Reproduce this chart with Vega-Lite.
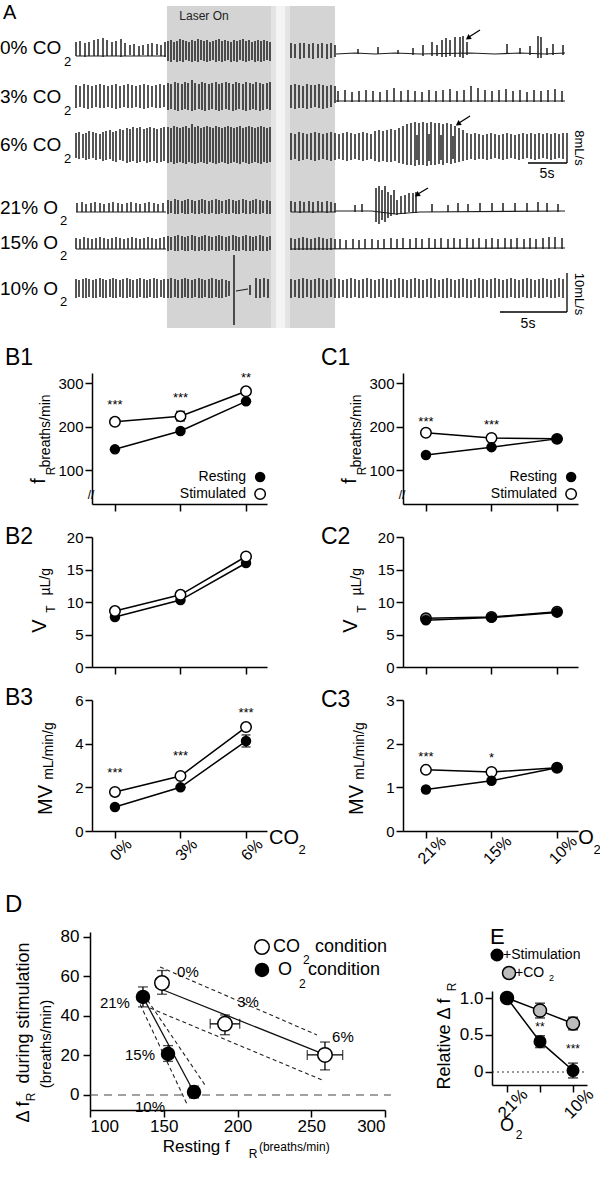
{
"$schema":"https://vega.github.io/schema/vega-lite/v6.json",
"width":600,"height":1199,
"padding":0,
"autosize":{"type":"none"},
"background":"white",
"config":{
 "view":{"stroke":null},
 "font":"Liberation Sans",
 "axis":{"domainColor":"black","tickColor":"black","labelColor":"black","domainWidth":1.5,"tickWidth":1.5,"tickSize":7,"labelPadding":2,"labelFontSize":15,"labelFont":"Liberation Sans","grid":false},
 "text":{"font":"Liberation Sans","color":"black"}
},
"resolve":{"scale":{"x":"independent","y":"independent"},"axis":{"x":"independent","y":"independent"}},
"layer":[
{
 "encoding":{
  "x":{"field":"x","type":"quantitative","scale":{"domain":[0,600],"range":[0,600],"nice":false,"zero":false},"axis":null},
  "y":{"field":"y","type":"quantitative","scale":{"domain":[0,330],"range":[0,330],"nice":false,"zero":false},"axis":null}
 },
 "layer":[
  {"data":{"values":[{"x":167,"x2":335,"y":6,"y2":328}]},"mark":{"type":"rect","color":"#d4d4d4"},"encoding":{"x2":{"field":"x2"},"y2":{"field":"y2"}}},
  {"data":{"values":[{"x":271,"x2":290,"y":6,"y2":328}]},"mark":{"type":"rect","color":"#e4e4e4"},"encoding":{"x2":{"field":"x2"},"y2":{"field":"y2"}}},
  {"data":{"values":[{"x":276,"x2":285,"y":6,"y2":328}]},"mark":{"type":"rect","color":"#f4f4f4"},"encoding":{"x2":{"field":"x2"},"y2":{"field":"y2"}}},
  {"data":{"values":[
{"x":76,"y":42,"y2":56},{"x":80,"y":41,"y2":56},{"x":85,"y":43,"y2":57},{"x":89,"y":42,"y2":56},{"x":94,"y":40,"y2":56},{"x":98,"y":39,"y2":56},{"x":103,"y":38,"y2":57},{"x":107,"y":40,"y2":56},{"x":112,"y":42,"y2":56},{"x":116,"y":41,"y2":56},{"x":121,"y":39,"y2":57},{"x":125,"y":43,"y2":56},{"x":130,"y":45,"y2":55},{"x":134,"y":44,"y2":56},{"x":139,"y":46,"y2":56},{"x":143,"y":45,"y2":55},{"x":148,"y":44,"y2":56},{"x":152,"y":43,"y2":56},{"x":157,"y":44,"y2":55},{"x":161,"y":45,"y2":56},{"x":165,"y":42,"y2":57},
{"x":168,"y":41,"y2":61},{"x":171,"y":40,"y2":62},{"x":174,"y":42,"y2":60},{"x":177,"y":41,"y2":62},{"x":180,"y":39,"y2":61},{"x":183,"y":40,"y2":62},{"x":186,"y":41,"y2":60},{"x":189,"y":42,"y2":61},{"x":192,"y":40,"y2":62},{"x":195,"y":41,"y2":61},{"x":198,"y":39,"y2":62},{"x":201,"y":40,"y2":60},{"x":204,"y":41,"y2":61},{"x":207,"y":40,"y2":62},{"x":210,"y":42,"y2":61},{"x":213,"y":41,"y2":60},{"x":216,"y":40,"y2":62},{"x":219,"y":39,"y2":61},{"x":222,"y":41,"y2":62},{"x":225,"y":40,"y2":61},{"x":228,"y":41,"y2":60},{"x":231,"y":42,"y2":62},{"x":234,"y":40,"y2":61},{"x":237,"y":41,"y2":62},{"x":240,"y":40,"y2":60},{"x":243,"y":39,"y2":61},{"x":246,"y":41,"y2":62},{"x":249,"y":40,"y2":61},{"x":252,"y":42,"y2":60},{"x":255,"y":41,"y2":62},{"x":258,"y":40,"y2":61},{"x":261,"y":41,"y2":62},{"x":264,"y":40,"y2":61},{"x":267,"y":41,"y2":60},{"x":270,"y":42,"y2":61},
{"x":291,"y":43,"y2":58},{"x":295,"y":44,"y2":58},{"x":300,"y":43,"y2":59},{"x":304,"y":43,"y2":58},{"x":309,"y":44,"y2":58},{"x":313,"y":43,"y2":59},{"x":318,"y":44,"y2":58},{"x":322,"y":43,"y2":58},{"x":327,"y":44,"y2":59},{"x":331,"y":43,"y2":58},{"x":335,"y":45,"y2":57},
{"x":358,"y":49,"y2":54},{"x":378,"y":47,"y2":54},{"x":398,"y":50,"y2":54},{"x":413,"y":48,"y2":55},{"x":423,"y":45,"y2":56},{"x":432,"y":42,"y2":56},{"x":437,"y":45,"y2":56},{"x":442,"y":40,"y2":57},{"x":446,"y":38,"y2":57},{"x":450,"y":40,"y2":56},{"x":455,"y":37,"y2":57},{"x":460,"y":37,"y2":57},{"x":463,"y":36,"y2":58},{"x":467,"y":42,"y2":55},{"x":507,"y":44,"y2":54},{"x":520,"y":48,"y2":54},{"x":530,"y":46,"y2":55},{"x":538,"y":36,"y2":58},{"x":541,"y":37,"y2":58},{"x":547,"y":48,"y2":55},{"x":553,"y":44,"y2":55},{"x":563,"y":45,"y2":55},
{"x":76,"y":85,"y2":108},{"x":80,"y":86,"y2":107},{"x":84,"y":84,"y2":108},{"x":88,"y":85,"y2":109},{"x":92,"y":86,"y2":108},{"x":96,"y":85,"y2":107},{"x":100,"y":84,"y2":108},{"x":104,"y":85,"y2":108},{"x":108,"y":86,"y2":107},{"x":112,"y":85,"y2":108},{"x":116,"y":84,"y2":109},{"x":120,"y":86,"y2":108},{"x":124,"y":85,"y2":107},{"x":128,"y":84,"y2":108},{"x":132,"y":85,"y2":108},{"x":136,"y":86,"y2":107},{"x":140,"y":85,"y2":108},{"x":144,"y":84,"y2":109},{"x":148,"y":85,"y2":108},{"x":152,"y":86,"y2":107},{"x":156,"y":85,"y2":108},{"x":160,"y":84,"y2":108},{"x":164,"y":85,"y2":107},
{"x":168,"y":83,"y2":110},{"x":171,"y":84,"y2":109},{"x":175,"y":82,"y2":110},{"x":178,"y":83,"y2":111},{"x":182,"y":84,"y2":110},{"x":185,"y":82,"y2":109},{"x":188,"y":83,"y2":110},{"x":192,"y":80,"y2":111},{"x":195,"y":83,"y2":110},{"x":199,"y":84,"y2":109},{"x":202,"y":82,"y2":110},{"x":205,"y":83,"y2":111},{"x":209,"y":84,"y2":110},{"x":212,"y":83,"y2":109},{"x":216,"y":82,"y2":110},{"x":219,"y":84,"y2":111},{"x":222,"y":83,"y2":110},{"x":226,"y":82,"y2":109},{"x":229,"y":83,"y2":110},{"x":233,"y":84,"y2":111},{"x":236,"y":82,"y2":110},{"x":239,"y":83,"y2":109},{"x":243,"y":84,"y2":110},{"x":246,"y":82,"y2":111},{"x":250,"y":83,"y2":110},{"x":253,"y":84,"y2":109},{"x":256,"y":82,"y2":110},{"x":260,"y":83,"y2":111},{"x":263,"y":84,"y2":110},{"x":267,"y":83,"y2":109},{"x":270,"y":82,"y2":110},
{"x":291,"y":85,"y2":108},{"x":295,"y":84,"y2":109},{"x":299,"y":85,"y2":108},{"x":303,"y":86,"y2":108},{"x":307,"y":84,"y2":109},{"x":311,"y":85,"y2":108},{"x":315,"y":85,"y2":107},{"x":319,"y":84,"y2":108},{"x":323,"y":85,"y2":109},{"x":327,"y":86,"y2":108},{"x":331,"y":85,"y2":107},{"x":335,"y":86,"y2":103},
{"x":338,"y":91,"y2":102},{"x":345,"y":90,"y2":102},{"x":352,"y":92,"y2":102},{"x":359,"y":91,"y2":102},{"x":366,"y":90,"y2":102},{"x":373,"y":91,"y2":102},{"x":380,"y":92,"y2":102},{"x":387,"y":90,"y2":102},{"x":394,"y":88,"y2":102},{"x":401,"y":91,"y2":102},{"x":408,"y":90,"y2":102},{"x":415,"y":91,"y2":102},{"x":422,"y":92,"y2":102},{"x":429,"y":90,"y2":102},{"x":436,"y":91,"y2":102},{"x":443,"y":90,"y2":102},{"x":450,"y":89,"y2":102},{"x":457,"y":91,"y2":102},{"x":464,"y":90,"y2":102},{"x":471,"y":86,"y2":102},{"x":478,"y":88,"y2":102},{"x":485,"y":90,"y2":102},{"x":492,"y":91,"y2":102},{"x":499,"y":90,"y2":102},{"x":506,"y":89,"y2":102},{"x":513,"y":91,"y2":102},{"x":520,"y":90,"y2":102},{"x":527,"y":92,"y2":102},{"x":534,"y":90,"y2":102},{"x":541,"y":91,"y2":102},{"x":548,"y":90,"y2":102},{"x":555,"y":89,"y2":102},{"x":562,"y":91,"y2":102},
{"x":76,"y":133,"y2":158},{"x":79,"y":132,"y2":159},{"x":83,"y":134,"y2":158},{"x":86,"y":133,"y2":160},{"x":89,"y":131,"y2":159},{"x":93,"y":132,"y2":158},{"x":96,"y":133,"y2":160},{"x":100,"y":134,"y2":159},{"x":103,"y":132,"y2":161},{"x":106,"y":131,"y2":160},{"x":110,"y":130,"y2":159},{"x":113,"y":132,"y2":161},{"x":116,"y":131,"y2":162},{"x":120,"y":129,"y2":160},{"x":123,"y":130,"y2":161},{"x":127,"y":128,"y2":163},{"x":130,"y":129,"y2":162},{"x":133,"y":127,"y2":161},{"x":137,"y":128,"y2":163},{"x":140,"y":127,"y2":162},{"x":144,"y":129,"y2":161},{"x":147,"y":128,"y2":163},{"x":150,"y":127,"y2":162},{"x":154,"y":128,"y2":161},{"x":157,"y":129,"y2":163},{"x":161,"y":128,"y2":162},{"x":164,"y":127,"y2":161},
{"x":168,"y":127,"y2":163},{"x":171,"y":128,"y2":162},{"x":174,"y":126,"y2":164},{"x":177,"y":127,"y2":163},{"x":180,"y":128,"y2":162},{"x":183,"y":127,"y2":163},{"x":186,"y":126,"y2":164},{"x":189,"y":128,"y2":162},{"x":192,"y":124,"y2":163},{"x":195,"y":127,"y2":164},{"x":198,"y":126,"y2":163},{"x":201,"y":128,"y2":162},{"x":204,"y":127,"y2":163},{"x":207,"y":126,"y2":164},{"x":210,"y":127,"y2":162},{"x":213,"y":128,"y2":163},{"x":216,"y":126,"y2":164},{"x":219,"y":127,"y2":163},{"x":222,"y":128,"y2":162},{"x":225,"y":127,"y2":163},{"x":228,"y":126,"y2":164},{"x":231,"y":127,"y2":163},{"x":234,"y":128,"y2":162},{"x":237,"y":127,"y2":163},{"x":240,"y":126,"y2":164},{"x":243,"y":128,"y2":162},{"x":246,"y":127,"y2":163},{"x":249,"y":126,"y2":164},{"x":252,"y":127,"y2":163},{"x":255,"y":128,"y2":162},{"x":258,"y":127,"y2":163},{"x":261,"y":126,"y2":164},{"x":264,"y":127,"y2":162},{"x":267,"y":128,"y2":163},{"x":270,"y":127,"y2":162},
{"x":291,"y":133,"y2":160},{"x":295,"y":134,"y2":159},{"x":299,"y":132,"y2":161},{"x":303,"y":133,"y2":160},{"x":307,"y":134,"y2":159},{"x":311,"y":133,"y2":160},{"x":315,"y":132,"y2":161},{"x":319,"y":133,"y2":160},{"x":323,"y":134,"y2":159},{"x":327,"y":133,"y2":160},{"x":331,"y":132,"y2":161},{"x":335,"y":133,"y2":160},{"x":339,"y":134,"y2":159},{"x":343,"y":133,"y2":160},{"x":347,"y":132,"y2":161},{"x":351,"y":133,"y2":160},{"x":355,"y":134,"y2":159},{"x":359,"y":133,"y2":160},{"x":363,"y":132,"y2":161},{"x":367,"y":133,"y2":160},{"x":371,"y":134,"y2":159},{"x":375,"y":131,"y2":161},{"x":379,"y":130,"y2":162},{"x":383,"y":131,"y2":161},{"x":387,"y":130,"y2":162},{"x":391,"y":129,"y2":162},{"x":395,"y":130,"y2":161},{"x":399,"y":128,"y2":163},
{"x":403,"y":126,"y2":164},{"x":407,"y":124,"y2":165},{"x":411,"y":123,"y2":165},{"x":415,"y":122,"y2":166},{"x":419,"y":123,"y2":165},{"x":423,"y":122,"y2":165},{"x":427,"y":123,"y2":166},{"x":431,"y":122,"y2":165},{"x":435,"y":123,"y2":165},{"x":439,"y":123,"y2":164},{"x":443,"y":124,"y2":165},{"x":447,"y":123,"y2":163},{"x":451,"y":124,"y2":164},{"x":455,"y":126,"y2":163},{"x":459,"y":128,"y2":162},{"x":463,"y":130,"y2":161},
{"x":417,"y":135,"y2":160},{"x":429,"y":134,"y2":161},{"x":441,"y":135,"y2":160},{"x":453,"y":136,"y2":159},
{"x":467,"y":133,"y2":160},{"x":471,"y":134,"y2":159},{"x":475,"y":133,"y2":160},{"x":479,"y":134,"y2":159},{"x":483,"y":135,"y2":159},{"x":487,"y":134,"y2":160},{"x":491,"y":133,"y2":159},{"x":495,"y":134,"y2":158},{"x":499,"y":135,"y2":159},{"x":503,"y":134,"y2":160},{"x":507,"y":133,"y2":159},{"x":511,"y":134,"y2":158},{"x":515,"y":135,"y2":159},{"x":519,"y":134,"y2":160},{"x":523,"y":133,"y2":159},{"x":527,"y":134,"y2":158},{"x":531,"y":133,"y2":159},{"x":535,"y":134,"y2":160},{"x":539,"y":133,"y2":159},{"x":543,"y":134,"y2":158},{"x":547,"y":133,"y2":159},{"x":551,"y":134,"y2":160},{"x":555,"y":133,"y2":159},{"x":559,"y":134,"y2":158},{"x":563,"y":133,"y2":159},
{"x":77,"y":203,"y2":212},{"x":82,"y":202,"y2":212},{"x":86,"y":204,"y2":212},{"x":91,"y":203,"y2":212},{"x":95,"y":202,"y2":212},{"x":100,"y":203,"y2":212},{"x":104,"y":204,"y2":212},{"x":109,"y":203,"y2":212},{"x":113,"y":202,"y2":212},{"x":118,"y":203,"y2":212},{"x":122,"y":204,"y2":212},{"x":127,"y":203,"y2":212},{"x":131,"y":202,"y2":212},{"x":136,"y":203,"y2":212},{"x":140,"y":204,"y2":212},{"x":145,"y":203,"y2":212},{"x":149,"y":202,"y2":212},{"x":154,"y":203,"y2":212},{"x":158,"y":204,"y2":212},{"x":163,"y":203,"y2":212},
{"x":168,"y":200,"y2":214},{"x":171,"y":201,"y2":213},{"x":175,"y":199,"y2":214},{"x":178,"y":200,"y2":214},{"x":182,"y":201,"y2":213},{"x":185,"y":200,"y2":214},{"x":188,"y":199,"y2":214},{"x":192,"y":200,"y2":213},{"x":195,"y":201,"y2":214},{"x":199,"y":200,"y2":214},{"x":202,"y":199,"y2":213},{"x":205,"y":200,"y2":214},{"x":209,"y":201,"y2":214},{"x":212,"y":200,"y2":213},{"x":216,"y":199,"y2":214},{"x":219,"y":200,"y2":214},{"x":222,"y":201,"y2":213},{"x":226,"y":200,"y2":214},{"x":229,"y":199,"y2":214},{"x":233,"y":200,"y2":213},{"x":236,"y":201,"y2":214},{"x":239,"y":200,"y2":214},{"x":243,"y":199,"y2":213},{"x":246,"y":200,"y2":214},{"x":250,"y":201,"y2":214},{"x":253,"y":200,"y2":213},{"x":256,"y":199,"y2":214},{"x":260,"y":200,"y2":214},{"x":263,"y":201,"y2":213},{"x":267,"y":200,"y2":214},{"x":270,"y":201,"y2":214},
{"x":291,"y":201,"y2":212},{"x":295,"y":202,"y2":212},{"x":300,"y":201,"y2":213},{"x":304,"y":202,"y2":212},{"x":309,"y":201,"y2":212},{"x":313,"y":202,"y2":213},{"x":318,"y":201,"y2":212},{"x":322,"y":202,"y2":212},{"x":327,"y":201,"y2":213},{"x":331,"y":202,"y2":212},{"x":335,"y":203,"y2":212},
{"x":355,"y":205,"y2":212},{"x":362,"y":204,"y2":212},{"x":376,"y":188,"y2":222},{"x":379,"y":186,"y2":224},{"x":382,"y":190,"y2":220},{"x":385,"y":186,"y2":222},{"x":388,"y":192,"y2":218},{"x":391,"y":195,"y2":216},{"x":394,"y":190,"y2":214},{"x":397,"y":200,"y2":215},{"x":401,"y":196,"y2":214},{"x":405,"y":195,"y2":214},{"x":409,"y":193,"y2":212},{"x":413,"y":193,"y2":213},{"x":416,"y":192,"y2":213},{"x":432,"y":204,"y2":212},{"x":448,"y":205,"y2":212},{"x":458,"y":203,"y2":212},{"x":468,"y":204,"y2":212},{"x":480,"y":203,"y2":212},{"x":492,"y":203,"y2":212},{"x":503,"y":203,"y2":212},{"x":515,"y":203,"y2":212},{"x":527,"y":203,"y2":212},{"x":538,"y":202,"y2":212},{"x":547,"y":203,"y2":212},{"x":558,"y":204,"y2":212},
{"x":76,"y":238,"y2":249},{"x":80,"y":239,"y2":249},{"x":84,"y":237,"y2":249},{"x":88,"y":238,"y2":249},{"x":92,"y":239,"y2":249},{"x":96,"y":238,"y2":249},{"x":100,"y":237,"y2":249},{"x":104,"y":238,"y2":249},{"x":108,"y":239,"y2":249},{"x":112,"y":238,"y2":249},{"x":116,"y":237,"y2":249},{"x":120,"y":238,"y2":249},{"x":124,"y":239,"y2":249},{"x":128,"y":238,"y2":249},{"x":132,"y":237,"y2":249},{"x":136,"y":238,"y2":249},{"x":140,"y":239,"y2":249},{"x":144,"y":238,"y2":249},{"x":148,"y":237,"y2":249},{"x":152,"y":238,"y2":249},{"x":156,"y":239,"y2":249},{"x":160,"y":238,"y2":249},{"x":164,"y":237,"y2":249},
{"x":168,"y":236,"y2":251},{"x":171,"y":237,"y2":250},{"x":175,"y":236,"y2":251},{"x":178,"y":235,"y2":251},{"x":182,"y":236,"y2":250},{"x":185,"y":237,"y2":251},{"x":188,"y":236,"y2":251},{"x":192,"y":235,"y2":250},{"x":195,"y":236,"y2":251},{"x":199,"y":237,"y2":251},{"x":202,"y":236,"y2":250},{"x":205,"y":235,"y2":251},{"x":209,"y":236,"y2":251},{"x":212,"y":237,"y2":250},{"x":216,"y":236,"y2":251},{"x":219,"y":235,"y2":251},{"x":222,"y":236,"y2":250},{"x":226,"y":237,"y2":251},{"x":229,"y":236,"y2":251},{"x":233,"y":235,"y2":250},{"x":236,"y":236,"y2":251},{"x":239,"y":237,"y2":251},{"x":243,"y":236,"y2":250},{"x":246,"y":235,"y2":251},{"x":250,"y":236,"y2":251},{"x":253,"y":237,"y2":251},{"x":256,"y":236,"y2":250},{"x":260,"y":235,"y2":251},{"x":263,"y":236,"y2":251},{"x":267,"y":237,"y2":251},{"x":270,"y":236,"y2":250},
{"x":291,"y":238,"y2":250},{"x":295,"y":239,"y2":250},{"x":299,"y":238,"y2":250},{"x":303,"y":237,"y2":250},{"x":307,"y":238,"y2":250},{"x":311,"y":239,"y2":250},{"x":315,"y":238,"y2":250},{"x":319,"y":237,"y2":250},{"x":323,"y":238,"y2":250},{"x":327,"y":239,"y2":250},{"x":331,"y":238,"y2":250},{"x":335,"y":239,"y2":249},
{"x":340,"y":239,"y2":249},{"x":346,"y":240,"y2":249},{"x":353,"y":239,"y2":249},{"x":359,"y":240,"y2":249},{"x":365,"y":239,"y2":249},{"x":372,"y":239,"y2":249},{"x":378,"y":240,"y2":249},{"x":384,"y":239,"y2":249},{"x":391,"y":238,"y2":249},{"x":397,"y":239,"y2":249},{"x":403,"y":238,"y2":249},{"x":410,"y":239,"y2":249},{"x":416,"y":238,"y2":249},{"x":422,"y":239,"y2":249},{"x":429,"y":238,"y2":249},{"x":435,"y":239,"y2":249},{"x":441,"y":238,"y2":249},{"x":448,"y":239,"y2":249},{"x":454,"y":238,"y2":249},{"x":460,"y":239,"y2":249},{"x":467,"y":238,"y2":249},{"x":473,"y":239,"y2":249},{"x":479,"y":238,"y2":249},{"x":486,"y":239,"y2":249},{"x":492,"y":238,"y2":249},{"x":498,"y":239,"y2":249},{"x":505,"y":238,"y2":249},{"x":511,"y":239,"y2":249},{"x":517,"y":238,"y2":249},{"x":524,"y":239,"y2":249},{"x":530,"y":238,"y2":249},{"x":536,"y":239,"y2":249},{"x":543,"y":238,"y2":249},{"x":549,"y":237,"y2":249},{"x":555,"y":237,"y2":249},{"x":562,"y":238,"y2":249},
{"x":76,"y":279,"y2":298},{"x":79,"y":280,"y2":297},{"x":83,"y":279,"y2":298},{"x":86,"y":278,"y2":298},{"x":89,"y":279,"y2":297},{"x":93,"y":280,"y2":298},{"x":96,"y":279,"y2":298},{"x":100,"y":278,"y2":297},{"x":103,"y":279,"y2":298},{"x":106,"y":280,"y2":298},{"x":110,"y":279,"y2":297},{"x":113,"y":278,"y2":298},{"x":116,"y":279,"y2":298},{"x":120,"y":280,"y2":297},{"x":123,"y":279,"y2":298},{"x":127,"y":278,"y2":298},{"x":130,"y":279,"y2":297},{"x":133,"y":280,"y2":298},{"x":137,"y":279,"y2":298},{"x":140,"y":278,"y2":297},{"x":144,"y":279,"y2":298},{"x":147,"y":280,"y2":298},{"x":150,"y":279,"y2":297},{"x":154,"y":278,"y2":298},{"x":157,"y":279,"y2":298},{"x":161,"y":280,"y2":297},{"x":164,"y":279,"y2":298},
{"x":168,"y":279,"y2":298},{"x":171,"y":278,"y2":298},{"x":175,"y":279,"y2":297},{"x":178,"y":280,"y2":298},{"x":182,"y":279,"y2":298},{"x":185,"y":278,"y2":297},{"x":188,"y":279,"y2":298},{"x":192,"y":280,"y2":298},{"x":195,"y":279,"y2":297},{"x":199,"y":278,"y2":298},{"x":202,"y":279,"y2":298},{"x":205,"y":280,"y2":297},{"x":209,"y":279,"y2":298},{"x":212,"y":278,"y2":298},{"x":216,"y":279,"y2":297},{"x":219,"y":280,"y2":298},{"x":222,"y":279,"y2":298},{"x":226,"y":280,"y2":297},{"x":229,"y":281,"y2":296},
{"x":234,"y":255,"y2":325},{"x":250,"y":285,"y2":295},{"x":256,"y":278,"y2":298},{"x":260,"y":279,"y2":298},{"x":264,"y":278,"y2":297},{"x":268,"y":279,"y2":298},
{"x":291,"y":279,"y2":298},{"x":295,"y":280,"y2":297},{"x":299,"y":279,"y2":298},{"x":303,"y":278,"y2":298},{"x":307,"y":279,"y2":297},{"x":311,"y":280,"y2":298},{"x":315,"y":279,"y2":298},{"x":319,"y":278,"y2":297},{"x":323,"y":279,"y2":298},{"x":327,"y":280,"y2":298},{"x":331,"y":279,"y2":297},{"x":335,"y":278,"y2":298},{"x":339,"y":279,"y2":298},{"x":343,"y":280,"y2":297},{"x":347,"y":279,"y2":298},{"x":351,"y":278,"y2":298},{"x":355,"y":279,"y2":297},{"x":359,"y":280,"y2":298},{"x":363,"y":279,"y2":298},{"x":367,"y":278,"y2":297},{"x":371,"y":279,"y2":298},{"x":375,"y":280,"y2":298},{"x":379,"y":279,"y2":297},{"x":383,"y":278,"y2":298},{"x":387,"y":279,"y2":298},{"x":391,"y":280,"y2":297},{"x":395,"y":279,"y2":298},{"x":399,"y":278,"y2":298},{"x":403,"y":279,"y2":297},{"x":407,"y":280,"y2":298},{"x":411,"y":279,"y2":298},{"x":415,"y":278,"y2":297},{"x":419,"y":279,"y2":298},{"x":423,"y":280,"y2":298},{"x":427,"y":279,"y2":297},{"x":431,"y":278,"y2":298},{"x":435,"y":279,"y2":298},{"x":439,"y":280,"y2":297},{"x":443,"y":279,"y2":298},{"x":447,"y":278,"y2":298},{"x":451,"y":279,"y2":297},{"x":455,"y":280,"y2":298},{"x":459,"y":279,"y2":298},{"x":463,"y":278,"y2":297},{"x":467,"y":279,"y2":298},{"x":471,"y":280,"y2":298},{"x":475,"y":279,"y2":297},{"x":479,"y":278,"y2":298},{"x":483,"y":279,"y2":298},{"x":487,"y":280,"y2":297},{"x":491,"y":279,"y2":298},{"x":495,"y":278,"y2":298},{"x":499,"y":279,"y2":297},{"x":503,"y":280,"y2":298},{"x":507,"y":279,"y2":298},{"x":511,"y":278,"y2":297},{"x":515,"y":279,"y2":298},{"x":519,"y":280,"y2":298},{"x":523,"y":279,"y2":297},{"x":527,"y":278,"y2":298},{"x":531,"y":279,"y2":298},{"x":535,"y":280,"y2":297},{"x":539,"y":279,"y2":298},{"x":543,"y":278,"y2":298},{"x":547,"y":279,"y2":297},{"x":551,"y":280,"y2":298},{"x":555,"y":279,"y2":298},{"x":559,"y":278,"y2":297},{"x":563,"y":279,"y2":298}
  ]},"mark":{"type":"rule","color":"#1e1e1e","strokeWidth":1.5},"encoding":{"y2":{"field":"y2"}}},
  {"data":{"values":[
{"g":"1a","x":76,"y":56},{"g":"1a","x":166,"y":56},
{"g":"1b","x":336,"y":54},{"g":"1b","x":355,"y":53},{"g":"1b","x":375,"y":54},{"g":"1b","x":395,"y":53},{"g":"1b","x":420,"y":54},{"g":"1b","x":470,"y":53},{"g":"1b","x":495,"y":54},{"g":"1b","x":520,"y":53},{"g":"1b","x":545,"y":54},{"g":"1b","x":565,"y":53},
{"g":"2b","x":336,"y":101},{"g":"2b","x":565,"y":101},
{"g":"4a","x":76,"y":212},{"g":"4a","x":166,"y":212},
{"g":"4c","x":291,"y":212},{"g":"4c","x":336,"y":212},
{"g":"4b","x":336,"y":211},{"g":"4b","x":372,"y":211},{"g":"4b","x":395,"y":214},{"g":"4b","x":420,"y":212},{"g":"4b","x":565,"y":211},
{"g":"5a","x":76,"y":249},{"g":"5a","x":166,"y":249},
{"g":"5b","x":291,"y":249},{"g":"5b","x":565,"y":248},
{"g":"6b","x":236,"y":291},{"g":"6b","x":248,"y":289}
  ]},"mark":{"type":"line","color":"#1e1e1e","strokeWidth":1.2},"encoding":{"detail":{"field":"g"}}},
  {"data":{"values":[{"x":480,"y":30,"x2":469,"y2":37},{"x":470,"y":116,"x2":459,"y2":123},{"x":428,"y":188,"x2":418,"y2":194},{"x":567,"y":133,"x2":567,"y2":163},{"x":528,"y":163,"x2":567,"y2":163},{"x":567,"y":273,"x2":567,"y2":312},{"x":500,"y":312,"x2":567,"y2":312}]},"mark":{"type":"rule","color":"black","strokeWidth":1.3},"encoding":{"x2":{"field":"x2"},"y2":{"field":"y2"}}},
  {"data":{"values":[{"x":468,"y":38},{"x":458,"y":124},{"x":417,"y":195}]},"mark":{"type":"point","shape":"triangle-up","angle":236,"size":35,"filled":true,"color":"black","opacity":1}},
  {"data":{"values":[{"x":3,"y":13,"s":"A"}]},"mark":{"type":"text","fontSize":20,"align":"left","baseline":"middle"},"encoding":{"text":{"field":"s"}}},
  {"data":{"values":[{"x":204,"y":16,"s":"Laser On"}]},"mark":{"type":"text","fontSize":12,"align":"center","baseline":"middle","color":"#222"},"encoding":{"text":{"field":"s"}}},
  {"data":{"values":[{"x":0,"y":48,"s":"0% CO"},{"x":0,"y":97,"s":"3% CO"},{"x":0,"y":145,"s":"6% CO"},{"x":0,"y":208,"s":"21% O"},{"x":0,"y":243,"s":"15% O"},{"x":0,"y":289,"s":"10% O"}]},"mark":{"type":"text","fontSize":19,"align":"left","baseline":"middle"},"encoding":{"text":{"field":"s"}}},
  {"data":{"values":[{"x":64,"y":62,"s":"2"},{"x":64,"y":111,"s":"2"},{"x":64,"y":159,"s":"2"},{"x":60,"y":221,"s":"2"},{"x":60,"y":256,"s":"2"},{"x":60,"y":302,"s":"2"}]},"mark":{"type":"text","fontSize":13,"align":"left","baseline":"middle"},"encoding":{"text":{"field":"s"}}},
  {"data":{"values":[{"x":579,"y":148,"s":"8mL/s"},{"x":579,"y":294,"s":"10mL/s"}]},"mark":{"type":"text","fontSize":13,"angle":90,"align":"center","baseline":"middle"},"encoding":{"text":{"field":"s"}}},
  {"data":{"values":[{"x":547,"y":174,"s":"5s"},{"x":528,"y":324,"s":"5s"}]},"mark":{"type":"text","fontSize":14,"align":"center","baseline":"middle"},"encoding":{"text":{"field":"s"}}}
 ]
},
{
 "data":{"values":[{"c":"R","x":0,"y":148},{"c":"R","x":1,"y":190},{"c":"R","x":2,"y":258},{"c":"S","x":0,"y":211},{"c":"S","x":1,"y":224},{"c":"S","x":2,"y":281},{"c":"R","x":2.215,"y":84.6,"l":1},{"c":"S","x":2.215,"y":45.6,"l":1}]},
 "encoding":{"x":{"field":"x","type":"quantitative","scale":{"domain":[-0.35,2.32],"range":[92,267],"nice":false,"zero":false},"axis":{"orient":"bottom","offset":-695,"values":[0,1,2],"labels":false,"title":null}},
  "y":{"field":"y","type":"quantitative","scale":{"domain":[22.7,323],"range":[504,373],"nice":false,"zero":false},"axis":{"orient":"left","offset":-92,"values":[100,200,300],"title":null}}},
 "layer":[
  {"transform":[{"filter":"!datum.l"}],"mark":{"type":"line","color":"black","strokeWidth":1.5},"encoding":{"detail":{"field":"c"}}},
  {"data":{"values":[{"x":1,"y":213,"y2":235}]},"mark":{"type":"rule","color":"black","strokeWidth":1.5},"encoding":{"y2":{"field":"y2"}}},
  {"data":{"values":[{"x":1,"y":213},{"x":1,"y":235}]},"mark":{"type":"tick","orient":"horizontal","size":9,"thickness":1.5,"color":"black"}},
  {"transform":[{"filter":"datum.c=='R'"}],"mark":{"type":"point","shape":"circle","size":110,"filled":true,"color":"black","opacity":1}},
  {"transform":[{"filter":"datum.c=='S'"}],"mark":{"type":"point","shape":"circle","size":110,"filled":true,"fill":"white","stroke":"black","strokeWidth":1.5,"opacity":1}},
  {"data":{"values":[{"x":-1.678,"y":357.4,"s":"B1"}]},"mark":{"type":"text","fontSize":23,"align":"left","baseline":"middle"},"encoding":{"text":{"field":"s"}}},
  {"data":{"values":[{"x":0,"y":249.6,"s":"***"},{"x":1,"y":265.7,"s":"***"},{"x":2,"y":311.5,"s":"**"}]},"mark":{"type":"text","fontSize":13,"align":"center","baseline":"middle"},"encoding":{"text":{"field":"s"}}},
  {"data":{"values":[{"x":2.0,"y":84.6,"s":"Resting"},{"x":2.0,"y":45.6,"s":"Stimulated"}]},"mark":{"type":"text","fontSize":14,"align":"right","baseline":"middle"},"encoding":{"text":{"field":"s"}}},
  {"data":{"values":[{"x":-1.159,"y":75.4,"s":"f"}]},"mark":{"type":"text","fontSize":20,"angle":270,"align":"center","baseline":"middle"},"encoding":{"text":{"field":"s"}}},
  {"data":{"values":[{"x":-0.976,"y":98.4,"s":"R"}]},"mark":{"type":"text","fontSize":12,"angle":270,"align":"center","baseline":"middle"},"encoding":{"text":{"field":"s"}}},
  {"data":{"values":[{"x":-1.052,"y":190,"s":"breaths/min"}]},"mark":{"type":"text","fontSize":14,"angle":270,"align":"center","baseline":"middle"},"encoding":{"text":{"field":"s"}}},
  {"data":{"values":[{"x":-0.365,"y":43.4,"s":"//"}]},"mark":{"type":"text","fontSize":12,"align":"center","baseline":"middle"},"encoding":{"text":{"field":"s"}}}
 ]
},
{
 "data":{"values":[{"c":"R","x":0,"y":7.7},{"c":"R","x":1,"y":10.3},{"c":"R","x":2,"y":16.0},{"c":"S","x":0,"y":8.6},{"c":"S","x":1,"y":11.1},{"c":"S","x":2,"y":17.0}]},
 "encoding":{"x":{"field":"x","type":"quantitative","scale":{"domain":[-0.35,2.32],"range":[92,267],"nice":false,"zero":false},"axis":{"orient":"bottom","offset":-532,"values":[0,1,2],"labels":false,"title":null}},
  "y":{"field":"y","type":"quantitative","scale":{"domain":[0,20],"range":[667,537],"nice":false,"zero":false},"axis":{"orient":"left","offset":-92,"values":[0,5,10,15,20],"title":null}}},
 "layer":[
  {"mark":{"type":"line","color":"black","strokeWidth":1.5},"encoding":{"detail":{"field":"c"}}},
  {"transform":[{"filter":"datum.c=='R'"}],"mark":{"type":"point","shape":"circle","size":110,"filled":true,"color":"black","opacity":1}},
  {"transform":[{"filter":"datum.c=='S'"}],"mark":{"type":"point","shape":"circle","size":110,"filled":true,"fill":"white","stroke":"black","strokeWidth":1.5,"opacity":1}},
  {"data":{"values":[{"x":-1.678,"y":20,"s":"B2"}]},"mark":{"type":"text","fontSize":23,"align":"left","baseline":"middle"},"encoding":{"text":{"field":"s"}}},
  {"data":{"values":[{"x":-1.144,"y":6.31,"s":"V"}]},"mark":{"type":"text","fontSize":20,"angle":270,"align":"center","baseline":"middle"},"encoding":{"text":{"field":"s"}}},
  {"data":{"values":[{"x":-0.976,"y":8.92,"s":"T"}]},"mark":{"type":"text","fontSize":12,"angle":270,"align":"center","baseline":"middle"},"encoding":{"text":{"field":"s"}}},
  {"data":{"values":[{"x":-1.052,"y":13.1,"s":"µL/g"}]},"mark":{"type":"text","fontSize":14,"angle":270,"align":"center","baseline":"middle"},"encoding":{"text":{"field":"s"}}}
 ]
},
{
 "data":{"values":[{"c":"R","x":0,"y":1.1},{"c":"R","x":1,"y":2.0},{"c":"R","x":2,"y":4.12},{"c":"S","x":0,"y":1.79},{"c":"S","x":1,"y":2.52},{"c":"S","x":2,"y":4.76}]},
 "encoding":{"x":{"field":"x","type":"quantitative","scale":{"domain":[-0.35,2.32],"range":[92,267],"nice":false,"zero":false},"axis":{"orient":"bottom","offset":-368,"values":[0,1,2],"labelExpr":"['0%','3%','6%'][datum.value]","labelAngle":-45,"labelAlign":"center","labelBaseline":"top","labelPadding":6,"labelFontSize":16,"title":null}},
  "y":{"field":"y","type":"quantitative","scale":{"domain":[0,6],"range":[831,700],"nice":false,"zero":false},"axis":{"orient":"left","offset":-92,"values":[0,2,4,6],"title":null}}},
 "layer":[
  {"mark":{"type":"line","color":"black","strokeWidth":1.5},"encoding":{"detail":{"field":"c"}}},
  {"data":{"values":[{"x":2,"y":3.85,"y2":4.4}]},"mark":{"type":"rule","color":"black","strokeWidth":1.5},"encoding":{"y2":{"field":"y2"}}},
  {"data":{"values":[{"x":2,"y":3.85},{"x":2,"y":4.4}]},"mark":{"type":"tick","orient":"horizontal","size":9,"thickness":1.5,"color":"black"}},
  {"transform":[{"filter":"datum.c=='R'"}],"mark":{"type":"point","shape":"circle","size":110,"filled":true,"color":"black","opacity":1}},
  {"transform":[{"filter":"datum.c=='S'"}],"mark":{"type":"point","shape":"circle","size":110,"filled":true,"fill":"white","stroke":"black","strokeWidth":1.5,"opacity":1}},
  {"data":{"values":[{"x":-1.678,"y":6.09,"s":"B3"}]},"mark":{"type":"text","fontSize":23,"align":"left","baseline":"middle"},"encoding":{"text":{"field":"s"}}},
  {"data":{"values":[{"x":0,"y":2.66,"s":"***"},{"x":1,"y":3.43,"s":"***"},{"x":2,"y":5.40,"s":"***"}]},"mark":{"type":"text","fontSize":13,"align":"center","baseline":"middle"},"encoding":{"text":{"field":"s"}}},
  {"data":{"values":[{"x":-1.052,"y":1.42,"s":"MV"}]},"mark":{"type":"text","fontSize":20,"angle":270,"align":"center","baseline":"middle"},"encoding":{"text":{"field":"s"}}},
  {"data":{"values":[{"x":-1.007,"y":3.66,"s":"mL/min/g"}]},"mark":{"type":"text","fontSize":14,"angle":270,"align":"center","baseline":"middle"},"encoding":{"text":{"field":"s"}}},
  {"data":{"values":[{"x":2.581,"y":-0.32,"s":"CO"}]},"mark":{"type":"text","fontSize":20,"align":"center","baseline":"middle"},"encoding":{"text":{"field":"s"}}},
  {"data":{"values":[{"x":2.856,"y":-0.87,"s":"2"}]},"mark":{"type":"text","fontSize":13,"align":"center","baseline":"middle"},"encoding":{"text":{"field":"s"}}}
 ]
},
{
 "data":{"values":[{"c":"R","x":0,"y":135},{"c":"R","x":1,"y":153},{"c":"R","x":2,"y":172},{"c":"S","x":0,"y":186},{"c":"S","x":1,"y":174},{"c":"S","x":2,"y":172},{"c":"R","x":2.215,"y":84.6,"l":1},{"c":"S","x":2.215,"y":45.6,"l":1}]},
 "encoding":{"x":{"field":"x","type":"quantitative","scale":{"domain":[-0.35,2.32],"range":[403,578],"nice":false,"zero":false},"axis":{"orient":"bottom","offset":-695,"values":[0,1,2],"labels":false,"title":null}},
  "y":{"field":"y","type":"quantitative","scale":{"domain":[22.7,323],"range":[504,373],"nice":false,"zero":false},"axis":{"orient":"left","offset":-403,"values":[100,200,300],"title":null}}},
 "layer":[
  {"transform":[{"filter":"!datum.l"}],"mark":{"type":"line","color":"black","strokeWidth":1.5},"encoding":{"detail":{"field":"c"}}},
  {"transform":[{"filter":"datum.c=='S'"}],"mark":{"type":"point","shape":"circle","size":110,"filled":true,"fill":"white","stroke":"black","strokeWidth":1.5,"opacity":1}},
  {"transform":[{"filter":"datum.c=='R'"}],"mark":{"type":"point","shape":"circle","size":110,"filled":true,"color":"black","opacity":1}},
  {"data":{"values":[{"x":-1.602,"y":357.4,"s":"C1"}]},"mark":{"type":"text","fontSize":23,"align":"left","baseline":"middle"},"encoding":{"text":{"field":"s"}}},
  {"data":{"values":[{"x":0,"y":210.7,"s":"***"},{"x":1,"y":203.8,"s":"***"}]},"mark":{"type":"text","fontSize":13,"align":"center","baseline":"middle"},"encoding":{"text":{"field":"s"}}},
  {"data":{"values":[{"x":2.0,"y":84.6,"s":"Resting"},{"x":2.0,"y":45.6,"s":"Stimulated"}]},"mark":{"type":"text","fontSize":14,"align":"right","baseline":"middle"},"encoding":{"text":{"field":"s"}}},
  {"data":{"values":[{"x":-1.159,"y":75.4,"s":"f"}]},"mark":{"type":"text","fontSize":20,"angle":270,"align":"center","baseline":"middle"},"encoding":{"text":{"field":"s"}}},
  {"data":{"values":[{"x":-0.976,"y":98.4,"s":"R"}]},"mark":{"type":"text","fontSize":12,"angle":270,"align":"center","baseline":"middle"},"encoding":{"text":{"field":"s"}}},
  {"data":{"values":[{"x":-1.052,"y":190,"s":"breaths/min"}]},"mark":{"type":"text","fontSize":14,"angle":270,"align":"center","baseline":"middle"},"encoding":{"text":{"field":"s"}}},
  {"data":{"values":[{"x":-0.365,"y":43.4,"s":"//"}]},"mark":{"type":"text","fontSize":12,"align":"center","baseline":"middle"},"encoding":{"text":{"field":"s"}}}
 ]
},
{
 "data":{"values":[{"c":"R","x":0,"y":7.2},{"c":"R","x":1,"y":7.6},{"c":"R","x":2,"y":8.4},{"c":"S","x":0,"y":7.5},{"c":"S","x":1,"y":7.7},{"c":"S","x":2,"y":8.5}]},
 "encoding":{"x":{"field":"x","type":"quantitative","scale":{"domain":[-0.35,2.32],"range":[403,578],"nice":false,"zero":false},"axis":{"orient":"bottom","offset":-532,"values":[0,1,2],"labels":false,"title":null}},
  "y":{"field":"y","type":"quantitative","scale":{"domain":[0,20],"range":[667,537],"nice":false,"zero":false},"axis":{"orient":"left","offset":-403,"values":[0,5,10,15,20],"title":null}}},
 "layer":[
  {"mark":{"type":"line","color":"black","strokeWidth":1.5},"encoding":{"detail":{"field":"c"}}},
  {"transform":[{"filter":"datum.c=='S'"}],"mark":{"type":"point","shape":"circle","size":110,"filled":true,"fill":"#777","stroke":"black","strokeWidth":1.5,"opacity":1}},
  {"transform":[{"filter":"datum.c=='R'"}],"mark":{"type":"point","shape":"circle","size":110,"filled":true,"color":"black","opacity":1}},
  {"data":{"values":[{"x":-1.602,"y":20,"s":"C2"}]},"mark":{"type":"text","fontSize":23,"align":"left","baseline":"middle"},"encoding":{"text":{"field":"s"}}},
  {"data":{"values":[{"x":-1.144,"y":6.31,"s":"V"}]},"mark":{"type":"text","fontSize":20,"angle":270,"align":"center","baseline":"middle"},"encoding":{"text":{"field":"s"}}},
  {"data":{"values":[{"x":-0.976,"y":8.92,"s":"T"}]},"mark":{"type":"text","fontSize":12,"angle":270,"align":"center","baseline":"middle"},"encoding":{"text":{"field":"s"}}},
  {"data":{"values":[{"x":-1.052,"y":13.1,"s":"µL/g"}]},"mark":{"type":"text","fontSize":14,"angle":270,"align":"center","baseline":"middle"},"encoding":{"text":{"field":"s"}}}
 ]
},
{
 "data":{"values":[{"c":"R","x":0,"y":0.95},{"c":"R","x":1,"y":1.15},{"c":"R","x":2,"y":1.45},{"c":"S","x":0,"y":1.4},{"c":"S","x":1,"y":1.35},{"c":"S","x":2,"y":1.45}]},
 "encoding":{"x":{"field":"x","type":"quantitative","scale":{"domain":[-0.35,2.32],"range":[403,578],"nice":false,"zero":false},"axis":{"orient":"bottom","offset":-368,"values":[0,1,2],"labelExpr":"['21%','15%','10%'][datum.value]","labelAngle":-45,"labelAlign":"center","labelBaseline":"top","labelPadding":6,"labelFontSize":16,"title":null}},
  "y":{"field":"y","type":"quantitative","scale":{"domain":[0,3],"range":[831,700],"nice":false,"zero":false},"axis":{"orient":"left","offset":-403,"values":[0,1,2,3],"title":null}}},
 "layer":[
  {"mark":{"type":"line","color":"black","strokeWidth":1.5},"encoding":{"detail":{"field":"c"}}},
  {"data":{"values":[{"x":1,"y":1.27,"y2":1.43}]},"mark":{"type":"rule","color":"black","strokeWidth":1.5},"encoding":{"y2":{"field":"y2"}}},
  {"transform":[{"filter":"datum.c=='S'"}],"mark":{"type":"point","shape":"circle","size":110,"filled":true,"fill":"white","stroke":"black","strokeWidth":1.5,"opacity":1}},
  {"transform":[{"filter":"datum.c=='R'"}],"mark":{"type":"point","shape":"circle","size":110,"filled":true,"color":"black","opacity":1}},
  {"data":{"values":[{"x":-1.602,"y":3.0,"s":"C3"}]},"mark":{"type":"text","fontSize":23,"align":"left","baseline":"middle"},"encoding":{"text":{"field":"s"}}},
  {"data":{"values":[{"x":0,"y":1.695,"s":"***"},{"x":1,"y":1.67,"s":"*"}]},"mark":{"type":"text","fontSize":13,"align":"center","baseline":"middle"},"encoding":{"text":{"field":"s"}}},
  {"data":{"values":[{"x":-1.052,"y":0.71,"s":"MV"}]},"mark":{"type":"text","fontSize":20,"angle":270,"align":"center","baseline":"middle"},"encoding":{"text":{"field":"s"}}},
  {"data":{"values":[{"x":-1.007,"y":1.832,"s":"mL/min/g"}]},"mark":{"type":"text","fontSize":14,"angle":270,"align":"center","baseline":"middle"},"encoding":{"text":{"field":"s"}}},
  {"data":{"values":[{"x":2.444,"y":-0.16,"s":"O"}]},"mark":{"type":"text","fontSize":20,"align":"center","baseline":"middle"},"encoding":{"text":{"field":"s"}}},
  {"data":{"values":[{"x":2.612,"y":-0.435,"s":"2"}]},"mark":{"type":"text","fontSize":13,"align":"center","baseline":"middle"},"encoding":{"text":{"field":"s"}}}
 ]
},
{
 "encoding":{"x":{"field":"x","type":"quantitative","scale":{"domain":[100,300],"range":[90,385],"nice":false,"zero":false},"axis":{"orient":"bottom","offset":-89,"values":[100,150,200,250,300],"title":null,"labelFontSize":17,"labelPadding":1}},
  "y":{"field":"y","type":"quantitative","scale":{"domain":[-7.6,82.5],"range":[1110,932],"nice":false,"zero":false},"axis":{"orient":"left","offset":-90,"values":[0,20,40,60,80],"title":null,"labelFontSize":17,"labelPadding":4}}},
 "layer":[
  {"data":{"values":[{"x":100,"x2":304,"y":0}]},"mark":{"type":"rule","color":"#444","strokeWidth":1.2,"strokeDash":[8,6]},"encoding":{"x2":{"field":"x2"}}},
  {"data":{"values":[{"g":"cu","x":147.5,"y":64.8},{"g":"cu","x":253.9,"y":30.4},{"g":"cl","x":140.7,"y":44},{"g":"cl","x":257.3,"y":7.6},{"g":"ol","x":132,"y":49},{"g":"ol","x":166,"y":-5},{"g":"or","x":139,"y":48},{"g":"or","x":178,"y":5}]},"mark":{"type":"line","color":"#222","strokeWidth":1.1,"strokeDash":[4,3]},"encoding":{"detail":{"field":"g"}}},
  {"data":{"values":[{"g":"c","x":148.8,"y":53.4},{"g":"c","x":259.3,"y":20.4},{"g":"o","x":135.9,"y":49.6},{"g":"o","x":171.5,"y":0}]},"mark":{"type":"line","color":"#111","strokeWidth":1.3},"encoding":{"detail":{"field":"g"}}},
  {"data":{"values":[{"x":148.8,"y":51,"y2":63},{"x":191.5,"y":30.5,"y2":40.5},{"x":259.3,"y":12.7,"y2":26.8},{"x":135.9,"y":44.6,"y2":54.7},{"x":152.9,"y":17,"y2":25},{"x":170.5,"y":-1.5,"y2":4.5}]},"mark":{"type":"rule","color":"black","strokeWidth":1.3},"encoding":{"y2":{"field":"y2"}}},
  {"data":{"values":[{"x":144.8,"x2":152.8,"y":56.7},{"x":181.5,"x2":201.5,"y":36},{"x":247.3,"x2":271.3,"y":20.3},{"x":133,"x2":139,"y":49.6},{"x":150,"x2":156,"y":20.8},{"x":168,"x2":173,"y":1.5}]},"mark":{"type":"rule","color":"black","strokeWidth":1.3},"encoding":{"x2":{"field":"x2"}}},
  {"data":{"values":[{"x":148.8,"y":51},{"x":148.8,"y":63},{"x":191.5,"y":30.5},{"x":191.5,"y":40.5},{"x":259.3,"y":12.7},{"x":259.3,"y":26.8},{"x":135.9,"y":44.6},{"x":135.9,"y":54.7},{"x":152.9,"y":17},{"x":152.9,"y":25},{"x":170.5,"y":-1.5},{"x":170.5,"y":4.5}]},"mark":{"type":"tick","orient":"horizontal","size":10,"thickness":1.3,"color":"black"}},
  {"data":{"values":[{"x":144.8,"y":56.7},{"x":152.8,"y":56.7},{"x":181.5,"y":36},{"x":201.5,"y":36},{"x":247.3,"y":20.3},{"x":271.3,"y":20.3},{"x":150,"y":20.8},{"x":156,"y":20.8},{"x":168,"y":1.5},{"x":173,"y":1.5}]},"mark":{"type":"tick","orient":"vertical","size":10,"thickness":1.3,"color":"black"}},
  {"data":{"values":[{"x":148.8,"y":56.7},{"x":191.5,"y":36},{"x":259.3,"y":20.3},{"x":216.6,"y":74.9}]},"mark":{"type":"point","shape":"circle","size":210,"filled":true,"fill":"white","stroke":"black","strokeWidth":1.5,"opacity":1}},
  {"data":{"values":[{"x":135.9,"y":49.6},{"x":152.9,"y":20.8},{"x":170.5,"y":1.5},{"x":216.6,"y":63.3}]},"mark":{"type":"point","shape":"circle","size":210,"filled":true,"color":"black","opacity":1}},
  {"data":{"values":[{"x":166.4,"y":62.3,"s":"0%"},{"x":207.1,"y":47.1,"s":"3%"},{"x":271.5,"y":29.4,"s":"6%"},{"x":116.9,"y":46.6,"s":"21%"},{"x":133.9,"y":20.3,"s":"15%"},{"x":140.7,"y":-6.1,"s":"10%"}]},"mark":{"type":"text","fontSize":15,"align":"center","baseline":"middle"},"encoding":{"text":{"field":"s"}}},
  {"data":{"values":[{"x":224.1,"y":74.9,"s":"CO"},{"x":252.5,"y":74.9,"s":"condition"},{"x":227.5,"y":63.3,"s":"O"},{"x":247.8,"y":63.3,"s":"condition"}]},"mark":{"type":"text","fontSize":18,"align":"left","baseline":"middle"},"encoding":{"text":{"field":"s"}}},
  {"data":{"values":[{"x":244.4,"y":68.4,"s":"2"},{"x":241.7,"y":56.2,"s":"2"}]},"mark":{"type":"text","fontSize":12,"align":"left","baseline":"middle"},"encoding":{"text":{"field":"s"}}},
  {"data":{"values":[{"x":42.4,"y":96.2,"s":"D"}]},"mark":{"type":"text","fontSize":24,"align":"left","baseline":"middle"},"encoding":{"text":{"field":"s"}}},
  {"data":{"values":[{"x":55.3,"y":41.5,"s":"during stimulation"},{"x":55.3,"y":-8.6,"s":"Δ f"}]},"mark":{"type":"text","fontSize":18,"angle":270,"align":"center","baseline":"middle"},"encoding":{"text":{"field":"s"}}},
  {"data":{"values":[{"x":60,"y":-1,"s":"R"}]},"mark":{"type":"text","fontSize":12,"angle":270,"align":"center","baseline":"middle"},"encoding":{"text":{"field":"s"}}},
  {"data":{"values":[{"x":70.2,"y":25.8,"s":"(breaths/min)"}]},"mark":{"type":"text","fontSize":15,"angle":270,"align":"center","baseline":"middle"},"encoding":{"text":{"field":"s"}}},
  {"data":{"values":[{"x":172,"y":-26.3,"s":"Resting f"}]},"mark":{"type":"text","fontSize":17,"align":"center","baseline":"middle"},"encoding":{"text":{"field":"s"}}},
  {"data":{"values":[{"x":210.5,"y":-29.8,"s":"R"},{"x":238.5,"y":-26.3,"s":"(breaths/min)"}]},"mark":{"type":"text","fontSize":12,"align":"center","baseline":"middle"},"encoding":{"text":{"field":"s"}}}
 ]
},
{
 "data":{"values":[{"c":"C","x":0,"y":1},{"c":"C","x":1,"y":0.83},{"c":"C","x":2,"y":0.655},{"c":"S","x":0,"y":1},{"c":"S","x":1,"y":0.41},{"c":"S","x":2,"y":0.02},{"c":"S","x":-0.303,"y":1.581,"l":1},{"c":"C","x":0.061,"y":1.338,"l":1}]},
 "encoding":{"x":{"field":"x","type":"quantitative","scale":{"domain":[-0.4545,2.4242],"range":[492,587],"nice":false,"zero":false},"axis":{"orient":"bottom","offset":-114,"values":[0,1,2],"labelExpr":"['21%','15%','10%'][datum.value]","labelAngle":-45,"labelAlign":"center","labelBaseline":"top","labelPadding":6,"labelFontSize":17,"title":null}},
  "y":{"field":"y","type":"quantitative","scale":{"domain":[-0.1757,1.0946],"range":[1085,991],"nice":false,"zero":false},"axis":{"orient":"left","offset":-492,"values":[0,0.5,1],"labelExpr":"datum.value==0?'0':format(datum.value,'.1f')","labelFontSize":17,"title":null}}},
 "layer":[
  {"data":{"values":[{"x":-0.4545,"x2":2.4242,"y":0}]},"mark":{"type":"rule","color":"#333","strokeWidth":1.2,"strokeDash":[2,3]},"encoding":{"x2":{"field":"x2"}}},
  {"transform":[{"filter":"!datum.l"}],"mark":{"type":"line","color":"black","strokeWidth":1.5},"encoding":{"detail":{"field":"c"}}},
  {"data":{"values":[{"x":1,"y":0.73,"y2":0.93},{"x":2,"y":0.57,"y2":0.74},{"x":1,"y":0.33,"y2":0.49},{"x":2,"y":-0.08,"y2":0.12}]},"mark":{"type":"rule","color":"black","strokeWidth":1.5},"encoding":{"y2":{"field":"y2"}}},
  {"data":{"values":[{"x":1,"y":0.73},{"x":1,"y":0.93},{"x":2,"y":0.57},{"x":2,"y":0.74},{"x":1,"y":0.33},{"x":1,"y":0.49},{"x":2,"y":-0.08},{"x":2,"y":0.12}]},"mark":{"type":"tick","orient":"horizontal","size":10,"thickness":1.5,"color":"black"}},
  {"transform":[{"filter":"datum.c=='C'"}],"mark":{"type":"point","shape":"circle","size":170,"filled":true,"fill":"#bdbdbd","stroke":"black","strokeWidth":1.5,"opacity":1}},
  {"transform":[{"filter":"datum.c=='S'"}],"mark":{"type":"point","shape":"circle","size":170,"filled":true,"color":"black","opacity":1}},
  {"data":{"values":[{"x":-0.515,"y":1.824,"s":"E"}]},"mark":{"type":"text","fontSize":22,"align":"left","baseline":"middle"},"encoding":{"text":{"field":"s"}}},
  {"data":{"values":[{"x":1,"y":0.608,"s":"**"},{"x":2,"y":0.311,"s":"***"}]},"mark":{"type":"text","fontSize":12,"align":"center","baseline":"middle"},"encoding":{"text":{"field":"s"}}},
  {"data":{"values":[{"x":-0.121,"y":1.581,"s":"+Stimulation"},{"x":0.242,"y":1.338,"s":"+CO"}]},"mark":{"type":"text","fontSize":14,"align":"left","baseline":"middle"},"encoding":{"text":{"field":"s"}}},
  {"data":{"values":[{"x":1.27,"y":1.27,"s":"2"}]},"mark":{"type":"text","fontSize":9,"align":"left","baseline":"middle"},"encoding":{"text":{"field":"s"}}},
  {"data":{"values":[{"x":-1.879,"y":0.378,"s":"Relative Δ f"}]},"mark":{"type":"text","fontSize":18,"angle":270,"align":"center","baseline":"middle"},"encoding":{"text":{"field":"s"}}},
  {"data":{"values":[{"x":-1.667,"y":1.149,"s":"R"}]},"mark":{"type":"text","fontSize":12,"angle":270,"align":"center","baseline":"middle"},"encoding":{"text":{"field":"s"}}},
  {"data":{"values":[{"x":0.0,"y":-0.73,"s":"O"}]},"mark":{"type":"text","fontSize":18,"align":"center","baseline":"middle"},"encoding":{"text":{"field":"s"}}},
  {"data":{"values":[{"x":0.37,"y":-0.85,"s":"2"}]},"mark":{"type":"text","fontSize":12,"align":"center","baseline":"middle"},"encoding":{"text":{"field":"s"}}}
 ]
}
]
}
